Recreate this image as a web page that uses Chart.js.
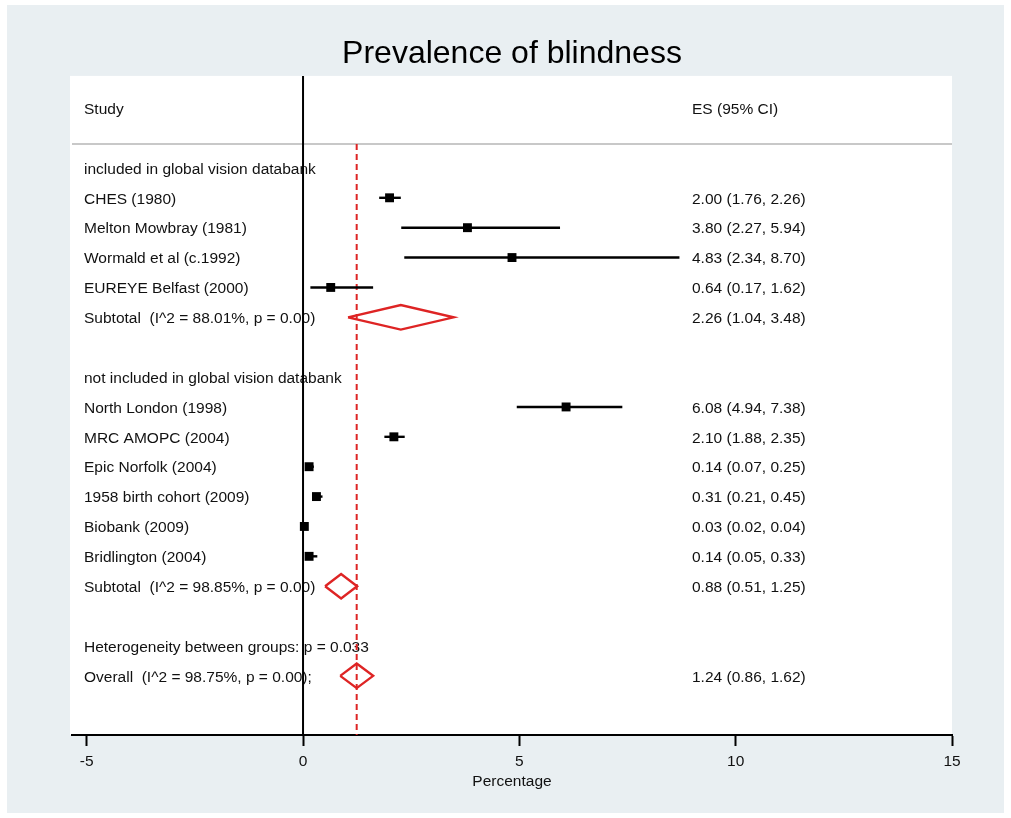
<!DOCTYPE html>
<html>
<head>
<meta charset="utf-8">
<title>Prevalence of blindness</title>
<script src="https://cdn.jsdelivr.net/npm/chart.js@4.4.1/dist/chart.umd.min.js"></script>
<style>
  body { margin: 0; background: #fff; }
  canvas { display: block; }
</style>
</head>
<body>
<canvas id="forest" width="1011" height="818"></canvas>
<script>
const groupLabels = ["included in global vision databank", "not included in global vision databank"];
const studyLabels = [
  "CHES (1980)", "Melton Mowbray (1981)", "Wormald et al (c.1992)", "EUREYE Belfast (2000)",
  "North London (1998)", "MRC AMOPC (2004)", "Epic Norfolk (2004)", "1958 birth cohort (2009)",
  "Biobank (2009)", "Bridlington (2004)"
];
const studyGroup = [0, 0, 0, 0, 1, 1, 1, 1, 1, 1];
const studyES = [2.00, 3.80, 4.83, 0.64, 6.08, 2.10, 0.14, 0.31, 0.03, 0.14];
const studyLow = [1.76, 2.27, 2.34, 0.17, 4.94, 1.88, 0.07, 0.21, 0.02, 0.05];
const studyHigh = [2.26, 5.94, 8.70, 1.62, 7.38, 2.35, 0.25, 0.45, 0.04, 0.33];

const subES = [2.26, 0.88];
const subLow = [1.04, 0.51];
const subHigh = [3.48, 1.25];
const subI2 = [88.01, 98.85];
const subP = [0.00, 0.00];

const overallES = 1.24;
const overallLow = 0.86;
const overallHigh = 1.62;
const overallI2 = 98.75;
const overallP = 0.00;
const hetP = 0.033;

const xTicks = [-5, 0, 5, 10, 15];

const FONT = '"Liberation Sans", Arial, Helvetica, sans-serif';
const RED = "#de2424";

function fmtCI(es, lo, hi) {
  return `${es.toFixed(2)} (${lo.toFixed(2)}, ${hi.toFixed(2)})`;
}

// one entry per text row of the plot, top to bottom
const rows = [];
let r = 0;
groupLabels.forEach((g, gi) => {
  rows.push({ row: r++, left: g });
  studyLabels.forEach((s, i) => {
    if (studyGroup[i] !== gi) return;
    rows.push({ row: r++, left: s, right: fmtCI(studyES[i], studyLow[i], studyHigh[i]),
      kind: "study", es: studyES[i], lo: studyLow[i], hi: studyHigh[i] });
  });
  rows.push({ row: r++, left: `Subtotal  (I^2 = ${subI2[gi].toFixed(2)}%, p = ${subP[gi].toFixed(2)})`,
    right: fmtCI(subES[gi], subLow[gi], subHigh[gi]), kind: "diamond", es: subES[gi], lo: subLow[gi], hi: subHigh[gi] });
  r++; // blank row
});
rows.push({ row: r++, left: `Heterogeneity between groups: p = ${hetP}` });
rows.push({ row: r++, left: `Overall  (I^2 = ${overallI2.toFixed(2)}%, p = ${overallP.toFixed(2)});`,
  right: fmtCI(overallES, overallLow, overallHigh), kind: "diamond", es: overallES, lo: overallLow, hi: overallHigh });

const Y_MIN = -3.08, Y_MAX = 18.98;

const datasets = [];
// reference line at zero
datasets.push({
  data: [{ x: 0, y: Y_MIN }, { x: 0, y: Y_MAX }],
  showLine: true, borderColor: "#000", borderWidth: 2, pointRadius: 0, order: 4
});
// overall effect, dashed
datasets.push({
  data: [{ x: overallES, y: -0.8 }, { x: overallES, y: Y_MAX }],
  showLine: true, borderColor: RED, borderWidth: 2, borderDash: [6, 4], pointRadius: 0, order: 3
});
rows.filter(d => d.kind === "study").forEach(d => {
  datasets.push({
    data: [{ x: d.lo, y: d.row }, { x: d.hi, y: d.row }],
    showLine: true, borderColor: "#000", borderWidth: 2.4, pointRadius: 0, order: 2
  });
});
datasets.push({
  data: rows.filter(d => d.kind === "study").map(d => ({ x: d.es, y: d.row })),
  pointStyle: "rect", pointRadius: 6.3, pointBorderWidth: 0, backgroundColor: "#000", order: 0
});
rows.filter(d => d.kind === "diamond").forEach(d => {
  const h = 0.41;
  datasets.push({
    data: [
      { x: d.lo, y: d.row }, { x: d.es, y: d.row - h }, { x: d.hi, y: d.row },
      { x: d.es, y: d.row + h }, { x: d.lo, y: d.row }
    ],
    showLine: true, borderColor: RED, borderWidth: 2.4, pointRadius: 0, fill: false, order: 1
  });
});

const forestText = {
  id: "forestText",
  beforeDraw(chart) {
    const { ctx, chartArea: a } = chart;
    ctx.save();
    ctx.fillStyle = "#e9eff2";
    ctx.fillRect(7, 5, 997, 808);
    ctx.fillStyle = "#fff";
    ctx.fillRect(a.left - 2, a.top, a.right - a.left + 2, a.bottom - a.top);
    ctx.restore();
  },
  beforeDatasetsDraw(chart) {
    const { ctx, chartArea: a, scales: { y } } = chart;
    ctx.save();
    // header rule
    ctx.strokeStyle = "#c8c8c8";
    ctx.lineWidth = 2;
    ctx.beginPath();
    ctx.moveTo(a.left, y.getPixelForValue(-0.8));
    ctx.lineTo(a.right, y.getPixelForValue(-0.8));
    ctx.stroke();

    ctx.fillStyle = "#111";
    ctx.font = `15.5px ${FONT}`;
    ctx.textBaseline = "middle";
    const leftX = a.left + 12, rightX = a.left + 620, dy = 1.5;
    ctx.fillText("Study", leftX, y.getPixelForValue(-2) + dy);
    ctx.fillText("ES (95% CI)", rightX, y.getPixelForValue(-2) + dy);
    rows.forEach(d => {
      const py = y.getPixelForValue(d.row) + dy;
      ctx.fillText(d.left, leftX, py);
      if (d.right) ctx.fillText(d.right, rightX, py);
    });
    ctx.restore();
  }
};

new Chart(document.getElementById("forest"), {
  type: "scatter",
  data: { datasets },
  plugins: [forestText],
  options: {
    responsive: false,
    devicePixelRatio: 1,
    animation: false,
    events: [],
    layout: { padding: { left: 72, right: 59, top: 0, bottom: 0 } },
    plugins: {
      legend: { display: false },
      tooltip: { enabled: false },
      title: {
        display: true,
        text: "Prevalence of blindness",
        color: "#000",
        font: { family: FONT, size: 32, weight: "normal" },
        padding: { top: 34.5, bottom: 3 }
      }
    },
    scales: {
      x: {
        type: "linear",
        min: -5.34,
        max: 15,
        afterBuildTicks: s => { s.ticks = xTicks.map(v => ({ value: v })); },
        afterFit: s => { s.height = 83; },
        border: { display: true, color: "#000", width: 2 },
        grid: { drawOnChartArea: false, drawTicks: true, tickLength: 11, tickColor: "#000", tickWidth: 2 },
        ticks: { color: "#111", padding: 6, autoSkip: false, maxRotation: 0, font: { family: FONT, size: 15.5 } },
        title: {
          display: true, text: "Percentage", color: "#111",
          font: { family: FONT, size: 15.5 }, padding: { top: 0, bottom: 27 }
        }
      },
      y: {
        type: "linear",
        display: false,
        reverse: true,
        min: Y_MIN,
        max: Y_MAX
      }
    }
  }
});
</script>
</body>
</html>
